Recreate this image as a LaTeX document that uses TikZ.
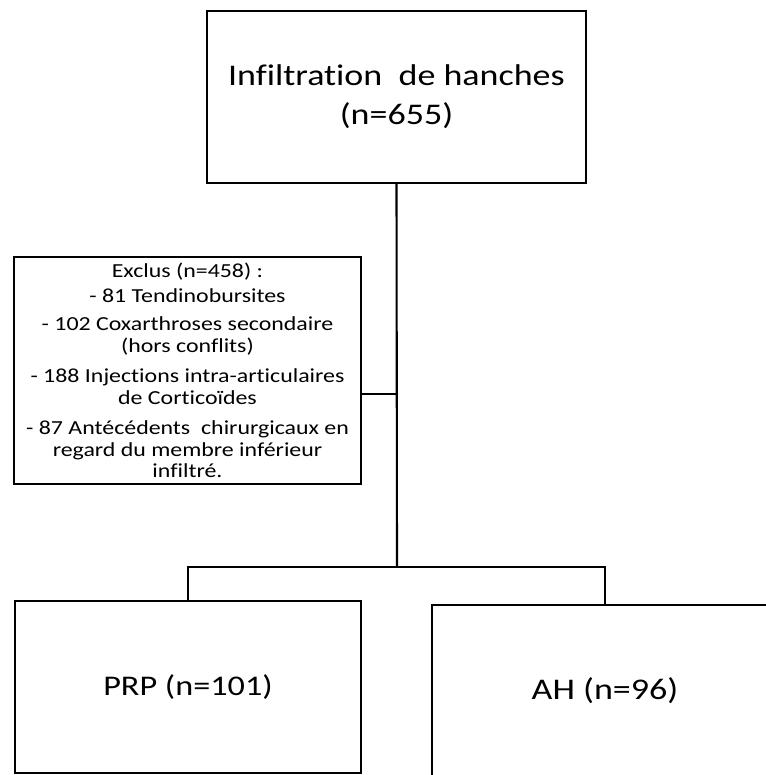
\documentclass[tikz,border=0pt]{standalone}
\usepackage{fontspec}
\setmainfont{Carlito}[FakeStretch=1.2,RawFeature={-liga;-dlig}]
\begin{document}
\begin{tikzpicture}[x=1pt,y=-1pt, line width=2.1pt,
  box/.style={draw, rectangle, inner sep=0pt, align=center},
  big/.style={font=\fontsize{30}{39}\selectfont},
  small/.style={font=\fontsize{19.9}{21.5}\selectfont}]
\useasboundingbox (0,0) rectangle (765,775);
\node[box, big, minimum width=379pt, minimum height=172pt] (top) at (396.5,97)
  {Infiltration~ de hanches\\(n=655)};
\node[box, small, minimum width=347pt, minimum height=227pt] (excl) at (187.5,370.5)
  {Exclus (n=458) :\\[3pt]
   - 81 Tendinobursites\\[7pt]
   - 102 Coxarthroses secondaire\\(hors conflits)\\[9pt]
   - 188 Injections intra-articulaires\\de Corticoïdes\\[9pt]
   - 87 Antécédents~ chirurgicaux en\\regard du membre inférieur\\infiltré.};
\node[box, font=\fontsize{28.5}{39}\selectfont, minimum width=346pt, minimum height=172pt] (prp) at (188,687) {PRP (n=101)};
\node[box, font=\fontsize{30}{39}\selectfont, minimum width=346pt, minimum height=172pt] (ah) at (605,691) {AH (n=96)};
\coordinate (j) at (397,567);
\draw (top.south) -- (j);
\draw ([yshift=-23.5pt]excl.east) -- ([yshift=-23.5pt]excl.east -| j);
\draw (j) -| (prp.north);
\draw (j) -| (ah.north);
\end{tikzpicture}
\end{document}
